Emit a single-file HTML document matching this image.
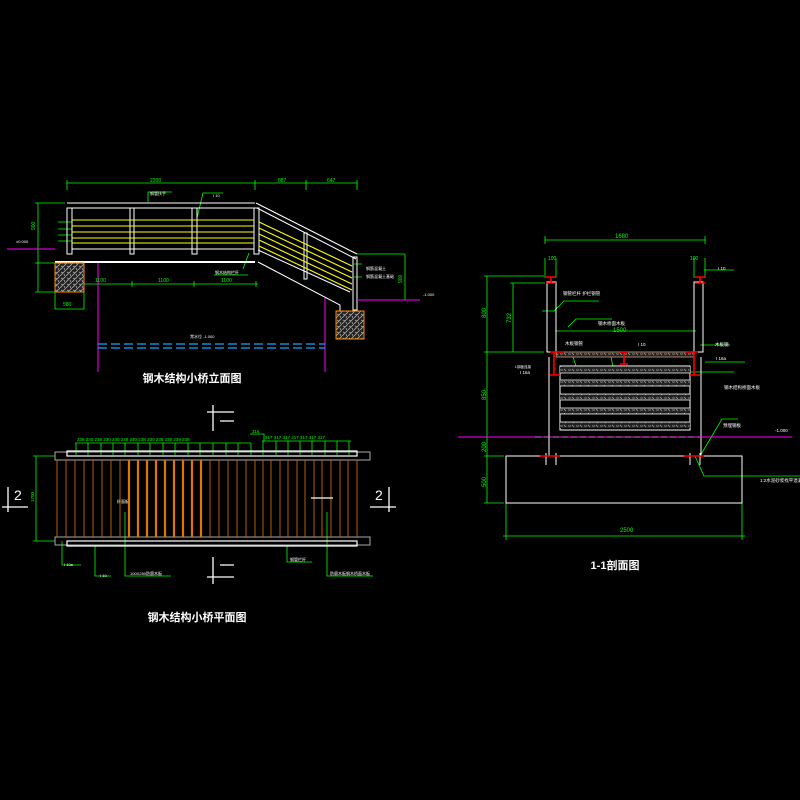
<!DOCTYPE html>
<html><head><meta charset="utf-8"><style>html,body{margin:0;padding:0;background:#000}svg{display:block}text{font-family:"Liberation Sans","Noto Sans CJK SC",sans-serif}</style></head>
<body>
<svg width="800" height="800" viewBox="0 0 800 800" xmlns="http://www.w3.org/2000/svg">
<defs>
<pattern id="hat" width="6" height="6" patternUnits="userSpaceOnUse"><rect width="6" height="6" fill="#222"/><path d="M0 6L6 0M1 2l2 1M4 4l1 2" stroke="#aaa" stroke-width="0.8"/></pattern>
<pattern id="hat2" width="8" height="4" patternUnits="userSpaceOnUse"><rect width="8" height="4" fill="#222"/><path d="M0 2h3M4 1l2 2" stroke="#aaa" stroke-width="0.8"/></pattern>
</defs>
<rect width="800" height="800" fill="#000"/>

<!-- ================= ELEVATION ================= -->
<g fill="none" stroke="#0f0" stroke-width="0.8">
<path d="M67 183H357M67 180v10M255 180v10M306 180v10M357 180v10"/>
<path d="M67 284H258M67 281v6M132 281v6M194 281v6M256 281v6"/>
<path d="M38 203V292M35 203h30M35 249h20M35 263h20M35 292h20"/>
<path d="M55 292v17h29v-17"/>
<path d="M357 254h48M405 254V300M357 300h48"/>
<path d="M148 202v-10h24M197 218l6-25h20"/>
<path d="M243 269l6-16M214 275h34"/>
<path d="M362 264h-8M362 277h-8"/>
<path d="M58 222h14M58 229h14M58 235h14M58 241h14"/>
</g>
<g fill="#0f0" font-size="5">
<text x="150" y="182">2200</text><text x="278" y="182">887</text><text x="327" y="182">647</text>
<text x="95" y="282">1100</text><text x="158" y="282">1100</text><text x="221" y="282">1100</text>
<text x="63" y="306">580</text>
<text x="35" y="230" transform="rotate(-90 35 230)">900</text>
<text x="402" y="283" transform="rotate(-90 402 283)">900</text>
</g>
<g fill="#fff" font-size="4"><text x="150" y="195">钢管扶手</text><text x="213" y="197">I 10</text><text x="215" y="274">钢木结构栏杆</text><text x="366" y="270">钢筋混凝土</text><text x="366" y="278">钢筋混凝土基础</text><text x="16" y="243">±0.000</text><text x="190" y="338">常水位 -1.000</text><text x="423" y="296">-1.000</text></g>
<g stroke="#fff" stroke-width="1" fill="none">
<path d="M67 203H255M67 208H255"/>
<rect x="67" y="208" width="5" height="46"/><rect x="130" y="208" width="4" height="46"/><rect x="192" y="208" width="5" height="46"/><rect x="254" y="208" width="5" height="46"/>
<path d="M72 249H254"/>
<path d="M55 262H255" stroke-width="2"/>
<path d="M256 203L357 254M257 208L356 259"/>
<path d="M258 250L350 292M258 262L340 305V311"/>
<rect x="304" y="233" width="3" height="46"/><rect x="353" y="257" width="4" height="53"/>
</g>
<g stroke="#ff0" stroke-width="1.1">
<path d="M72 220H254M72 226H254M72 232H254M72 238H254M72 243H254" />
<path d="M259 222L352 266M259 228L352 272M259 234L352 278M259 240L352 284M259 246L352 290"/>
</g>
<rect x="55" y="263" width="29" height="29" fill="url(#hat)" stroke="#f80"/>
<rect x="336" y="311" width="28" height="28" fill="url(#hat)" stroke="#f80"/>
<g stroke="#f0f" stroke-width="1"><path d="M98 263V372M325 298V372M7 249H55M357 300H420"/></g>
<g stroke="#1af" stroke-width="1.3" stroke-dasharray="9 4"><path d="M98 344H325M98 348H325"/></g>
<text x="192" y="382" fill="#fff" font-size="11" font-weight="bold" text-anchor="middle">钢木结构小桥立面图</text>

<!-- ================= PLAN ================= -->
<g stroke="#0f0" stroke-width="0.8" fill="none">
<path d="M75 443H251M262 441H351M36 456V541M33 456h22M33 541h22M250 434h14v7"/>
<path d="M76 443v12M88 443v12M101 443v12M113 443v12M125 443v12M138 443v12M150 443v12M163 443v12M175 443v12M188 443v12M200 443v12M213 443v12M226 443v12M238 443v12M251 443v12M263 441v14M276 441v14M288 441v14M300 441v14M312 441v14M325 441v14M337 441v14M349 441v14"/>
<path d="M62 541v24h19M95 546v30h16M125 512v64h46M287 546v16h25M327 512v64h46"/>
</g>
<g fill="#0f0" font-size="4.5"><text x="77" y="441">238 230 238 230 230 238 230 238 230 238 230 238 238</text><text x="265" y="439">317 317 317 317 317 317 317</text><text x="252" y="433">316</text><text x="34" y="502" transform="rotate(-90 34 502)">1700</text></g>
<g fill="#fff" font-size="4"><text x="64" y="566">I 10a</text><text x="100" y="577">I 10</text><text x="130" y="575">100X250防腐木板</text><text x="290" y="561">钢管栏杆</text><text x="330" y="575">防腐木板钢木桥面木板</text><text x="117" y="503">桥面板</text></g>
<g stroke="#aaa" stroke-width="1" fill="none"><rect x="55" y="452" width="315" height="8"/><rect x="55" y="537" width="315" height="8"/></g>
<g stroke="#fff" stroke-width="1.2" fill="none"><rect x="67" y="451" width="290" height="5"/><rect x="67" y="541" width="290" height="5"/></g>
<g stroke="#c60" stroke-width="0.9">
<path d="M57 460V537M66 460V537M75 460V537M84 460V537M93 460V537M102 460V537M111 460V537M120 460V537M210 460V537M219 460V537M228 460V537M237 460V537M246 460V537M255 460V537M263 460V537M271 460V537M280 460V537M288 460V537M297 460V537M305 460V537M314 460V537M322 460V537M331 460V537M340 460V537M348 460V537M357 460V537"/>
</g>
<g stroke="#d70" stroke-width="2.2"><path d="M129 460V537M138 460V537M147 460V537M156 460V537M165 460V537M174 460V537M183 460V537M192 460V537M201 460V537"/></g>
<g stroke="#fff" stroke-width="1.3" fill="none">
<path d="M2 507H28M8 487V512M370 507H396M389 487V512M207 412H234M213 405V431M220 421h14M207 577H234M213 557V584M220 565h14M311 498h22"/>
</g>
<g fill="#fff" font-size="14"><text x="14" y="500">2</text><text x="375" y="500">2</text></g>
<text x="197" y="621" fill="#fff" font-size="11" font-weight="bold" text-anchor="middle">钢木结构小桥平面图</text>

<!-- ================= SECTION 1-1 ================= -->
<g stroke="#0f0" stroke-width="0.8" fill="none">
<path d="M545 240H705M545 236v8M705 236v8M545 258v20M556 258v20M694 258v20M705 258v20"/>
<path d="M487 276V503M484 276h60M484 352h60M484 437h60M484 456h20M484 503h20M513 283V352M510 283h35"/>
<path d="M506 503V540M742 503V540M503 536H745"/>
<path d="M555 331H696M704 270h30M542 311h12l10-10h35M700 345h30M705 362h40"/>
<path d="M572 354l10 30M568 327l8-8h36M610 352l4 20h120M700 456l22-37h16M695 456l9 20h116"/>
</g>
<g fill="#0f0" font-size="6"><text x="615" y="238">1680</text><text x="613" y="332">1500</text><text x="620" y="532">2500</text><text x="548" y="260" font-size="5">100</text><text x="690" y="260" font-size="5">100</text>
<text x="486" y="318" transform="rotate(-90 486 318)">800</text><text x="486" y="400" transform="rotate(-90 486 400)">850</text><text x="486" y="452" transform="rotate(-90 486 452)">200</text><text x="486" y="487" transform="rotate(-90 486 487)">500</text><text x="511" y="323" transform="rotate(-90 511 323)">732</text></g>
<g fill="#fff" font-size="4.5"><text x="718" y="270">I 10</text><text x="563" y="295">钢管栏杆 护栏钢管</text><text x="598" y="325">钢木桥面木板</text><text x="638" y="346">I 10</text><text x="565" y="345">木板钢管</text><text x="715" y="346">木板钢</text><text x="716" y="360">I 16a</text><text x="520" y="374">I 16a</text><text x="515" y="368" font-size="3.5">L钢板连接</text><text x="724" y="389">钢木结构桥面木板</text><text x="723" y="427">预埋钢板</text><text x="760" y="482">1:2水泥砂浆找平混凝土基础</text><text x="775" y="432">-1.000</text></g>
<g stroke="#fff" stroke-width="1" fill="none">
<rect x="547" y="282" width="9" height="70"/><rect x="694" y="282" width="9" height="70"/>
<path d="M549 357V456M701 357V456"/>
<rect x="506" y="456" width="236" height="47"/>
<path d="M546 453v12M556 453v12M690 453v12M700 453v12"/>
</g>
<rect x="556" y="352" width="138" height="5" fill="url(#hat2)" stroke="#a86"/>
<g>
<rect x="560" y="366" width="130" height="64" fill="#000" stroke="#fff"/>
<rect x="560" y="367" width="130" height="6" fill="url(#hat2)"/>
<rect x="560" y="380" width="130" height="6" fill="url(#hat2)"/>
<rect x="560" y="394" width="130" height="6" fill="url(#hat2)"/>
<rect x="560" y="408" width="130" height="6" fill="url(#hat2)"/>
<rect x="560" y="422" width="130" height="6" fill="url(#hat2)"/>
<path d="M560 373H690M560 380H690M560 386H690M560 394H690M560 400H690M560 408H690M560 414H690M560 422H690" stroke="#fff" stroke-width="0.8"/>
</g>
<g stroke="#f00" stroke-width="1.6" fill="none">
<path d="M546 277h10M546 283h10M551 277v6M695 277h10M695 283h10M700 277v6"/>
<path d="M550 352h14M550 375h10M554 352v23M686 352h12M690 375h10M694 352v23M620 352h8M620 364h8M624 352v12"/>
<path d="M540 456h20M684 456h20"/>
</g>
<path d="M458 437H792" stroke="#f0f" stroke-width="1"/>
<path d="M535 437H700" stroke="#aaa" stroke-width="0.8" stroke-dasharray="6 3"/>
<text x="615" y="569" fill="#fff" font-size="11" font-weight="bold" text-anchor="middle">1-1剖面图</text>
</svg>
</body></html>
